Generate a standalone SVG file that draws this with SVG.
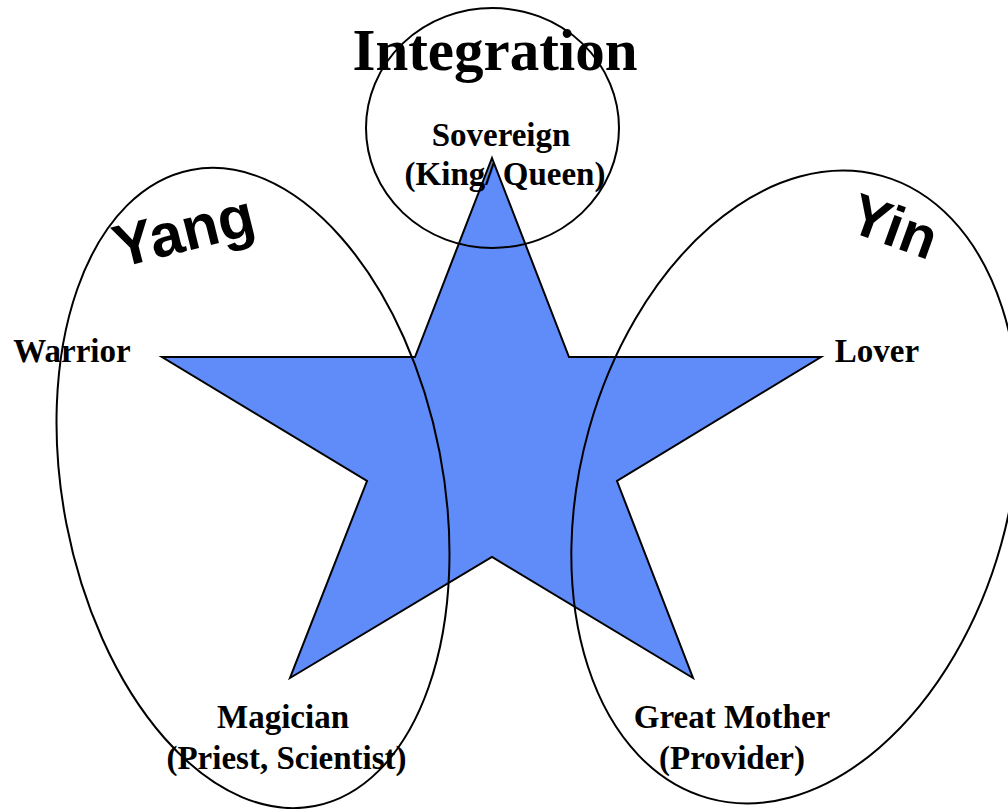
<svg xmlns="http://www.w3.org/2000/svg" width="1008" height="809" viewBox="0 0 1008 809">
<style>
.line{fill:none;stroke:#000;stroke-width:2}
.lbl{font-family:"Liberation Serif","Times New Roman",serif;font-weight:bold;font-size:33px;fill:#000;text-anchor:middle}
.big{font-family:"Liberation Sans",Arial,sans-serif;font-weight:bold;fill:#000}
</style>
<rect width="1008" height="809" fill="#fff"/>
<g id="star">
<polygon points="492,158 569,357 821,357 617,481 693,678 492,557 290,678 367,481 162,357 415,357" fill="#5F8CF9" stroke="#000" stroke-width="2" stroke-linejoin="miter"/>
</g>
<g id="yang-group">
<ellipse class="line" cx="0" cy="0" rx="190" ry="324" transform="translate(253,488) rotate(-11)"/>
<text class="big" x="119" y="268" font-size="60" transform="rotate(-14 119 268)">Yang</text>
</g>
<g id="yin-group">
<ellipse class="line" cx="0" cy="0" rx="214" ry="323" transform="translate(795,487) rotate(15.6)"/>
<text class="big" x="846" y="230" font-size="58" transform="rotate(20 846 230)">Yin</text>
</g>
<g id="integration-group">
<ellipse class="line" cx="492.5" cy="128" rx="126.5" ry="120"/>
<text class="lbl" x="495" y="70" style="font-size:59px">Integration</text>
</g>
<g id="sovereign">
<text class="lbl" x="501" y="146">Sovereign</text>
<text class="lbl" x="505" y="185">(King/ Queen)</text>
</g>
<g id="warrior">
<text class="lbl" x="72" y="362">Warrior</text>
</g>
<g id="lover">
<text class="lbl" x="877" y="362">Lover</text>
</g>
<g id="magician">
<text class="lbl" x="283" y="728">Magician</text>
<text class="lbl" x="286.5" y="769">(Priest, Scientist)</text>
</g>
<g id="great-mother">
<text class="lbl" x="732" y="728">Great Mother</text>
<text class="lbl" x="732" y="769">(Provider)</text>
</g>
<g id="connectors"></g>
</svg>
